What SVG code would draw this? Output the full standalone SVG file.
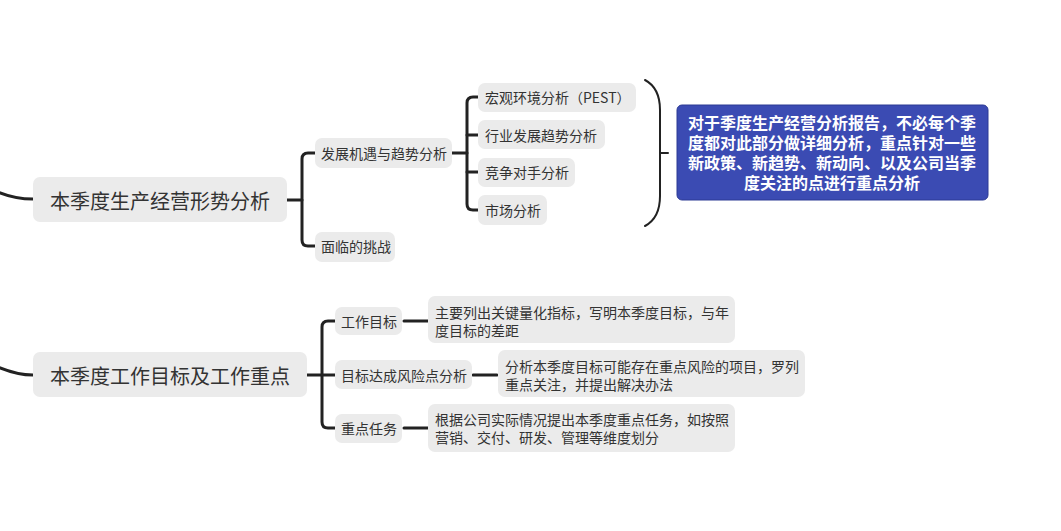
<svg xmlns="http://www.w3.org/2000/svg" width="1061" height="531" viewBox="0 0 1061 531">
<style>
.box{fill:#ebebeb;}
.t{font-family:"Noto Sans CJK SC","Noto Sans",sans-serif;fill:#333;dominant-baseline:central;}
.big{font-size:20px;}
.sm{font-size:14px;}
.ln{fill:none;stroke:#222;stroke-width:3;stroke-linecap:round;}
.thin{fill:none;stroke:#222;stroke-width:2;stroke-linecap:round;}
.note{font-family:"Liberation Sans","Noto Sans CJK SC",sans-serif;font-size:16px;font-weight:bold;fill:#fff;text-anchor:middle;}
</style>
<rect width="1061" height="531" fill="#fff"/>
<g id="connectors">
<path class="ln" d="M-2,192 C10,197 20,199 33,199"/>
<path class="ln" d="M-2,367 C10,372 20,375 33,375"/>
<path class="ln" d="M287,200 H302"/>
<path class="ln" d="M315,153 H308 Q302,153 302,159 V240 Q302,246 308,246 H315"/>
<path class="ln" d="M452,153 H467"/>
<path class="ln" d="M478,97 H473 Q467,97 467,103 V204 Q467,210 473,210 H478"/>
<path class="ln" d="M467,135 H478"/>
<path class="ln" d="M467,172 H478"/>
<path class="thin" d="M645,80 Q660,88 660,110 V196 Q660,218 645,226"/>
<path class="thin" d="M660,153 H668"/>
<path class="ln" d="M307,375 H322"/>
<path class="ln" d="M335,321 H328 Q322,321 322,327 V422 Q322,428 328,428 H335"/>
<path class="ln" d="M322,375 H335"/>
<path class="ln" d="M404,321 H428"/>
<path class="ln" d="M473,375 H497"/>
<path class="ln" d="M404,428 H428"/>
</g>
<g id="main1"><rect class="box" x="33" y="177" width="254" height="45" rx="7"/><text class="t big" x="50" y="200">本季度生产经营形势分析</text></g>
<g id="n-fazhan"><rect class="box" x="315" y="138" width="137" height="30" rx="7"/><text class="t sm" x="321" y="153">发展机遇与趋势分析</text></g>
<g id="n-mianlin"><rect class="box" x="315" y="232" width="80" height="30" rx="7"/><text class="t sm" x="321" y="246">面临的挑战</text></g>
<g id="n-hongguan"><rect class="box" x="478" y="83" width="158" height="29" rx="7"/><text class="t sm" x="485" y="97">宏观环境分析（PEST）</text></g>
<g id="n-hangye"><rect class="box" x="478" y="120" width="127" height="29" rx="7"/><text class="t sm" x="485" y="135">行业发展趋势分析</text></g>
<g id="n-jingzheng"><rect class="box" x="478" y="158" width="97" height="29" rx="7"/><text class="t sm" x="485" y="172">竞争对手分析</text></g>
<g id="n-shichang"><rect class="box" x="478" y="195" width="69" height="30" rx="7"/><text class="t sm" x="485" y="210">市场分析</text></g>
<g id="n-note"><rect x="677" y="105" width="311" height="95" rx="5" fill="#3b4bb3" stroke="#2c3a94" stroke-width="1"/>
<text class="note" x="832" y="129">对于季度生产经营分析报告，不必每个季</text>
<text class="note" x="832" y="149">度都对此部分做详细分析，重点针对一些</text>
<text class="note" x="832" y="169">新政策、新趋势、新动向、以及公司当季</text>
<text class="note" x="832" y="189">度关注的点进行重点分析</text></g>
<g id="main2"><rect class="box" x="33" y="352" width="274" height="45" rx="7"/><text class="t big" x="50" y="375">本季度工作目标及工作重点</text></g>
<g id="n-gongzuo"><rect class="box" x="335" y="307" width="67" height="28" rx="7"/><text class="t sm" x="341" y="321">工作目标</text></g>
<g id="n-fengxian"><rect class="box" x="335" y="360" width="137" height="29" rx="7"/><text class="t sm" x="341" y="375">目标达成风险点分析</text></g>
<g id="n-zhongdian"><rect class="box" x="335" y="414" width="67" height="29" rx="7"/><text class="t sm" x="341" y="428">重点任务</text></g>
<g id="d-gongzuo"><rect class="box" x="428" y="296" width="307" height="47" rx="7"/><text class="t sm" x="435" y="312">主要列出关键量化指标，写明本季度目标，与年</text><text class="t sm" x="435" y="330">度目标的差距</text></g>
<g id="d-fengxian"><rect class="box" x="498" y="350" width="307" height="47" rx="7"/><text class="t sm" x="505" y="366">分析本季度目标可能存在重点风险的项目，罗列</text><text class="t sm" x="505" y="384">重点关注，并提出解决办法</text></g>
<g id="d-zhongdian"><rect class="box" x="428" y="404" width="307" height="48" rx="7"/><text class="t sm" x="435" y="419">根据公司实际情况提出本季度重点任务，如按照</text><text class="t sm" x="435" y="437">营销、交付、研发、管理等维度划分</text></g>
</svg>
